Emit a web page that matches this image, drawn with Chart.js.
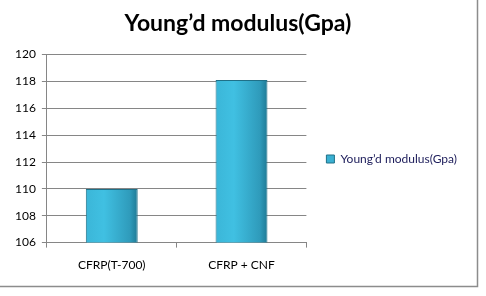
<!DOCTYPE html>
<html>
<head>
<meta charset="utf-8">
<script src="https://cdn.jsdelivr.net/npm/chart.js@4/dist/chart.umd.min.js"></script>
<style>
html,body{margin:0;padding:0;background:#fff;}
#wrap{width:486px;height:296px;position:relative;}
</style>
</head>
<body>
<div id="wrap"><canvas id="c" width="486" height="296"></canvas></div>
<script>
const categories = ["CFRP(T-700)", "CFRP + CNF"];
const seriesName = "Young\u2019d modulus(Gpa)";
const values = [110, 118.1];
const titleText = "Young\u2019d modulus(Gpa)";
const yMin = 106, yMax = 120, yStep = 2;

const BAR_PCT = 0.4;

function barGradient(ctx) {
  const chart = ctx.chart;
  const xs = chart.scales && chart.scales.x;
  if (!xs || ctx.dataIndex === undefined) return '#3AB4D6';
  const cx = xs.getPixelForValue(ctx.dataIndex);
  const w = xs.width / categories.length * BAR_PCT;
  const g = chart.ctx.createLinearGradient(cx - w / 2, 0, cx + w / 2, 0);
  g.addColorStop(0, '#3BB6D8');
  g.addColorStop(0.35, '#40C0E2');
  g.addColorStop(0.85, '#2F9BBB');
  g.addColorStop(1, '#1F7A95');
  return g;
}

const borderPlugin = {
  id: 'frame',
  beforeDraw(chart) {
    const c = chart.ctx;
    c.save();
    c.fillStyle = '#fff';
    c.fillRect(0, 0, chart.width, chart.height);
    c.restore();
  },
  afterDraw(chart) {
    const c = chart.ctx;
    c.save();
    c.strokeStyle = '#8c8c8c';
    c.lineWidth = 1.5;
    c.beginPath();
    c.moveTo(477.5, 0);
    c.lineTo(477.5, 286.5);
    c.lineTo(0, 286.5);
    c.stroke();
    c.restore();
  }
};

new Chart(document.getElementById('c'), {
  type: 'bar',
  data: {
    labels: categories,
    datasets: [{
      label: seriesName,
      data: values,
      backgroundColor: barGradient,
      borderColor: '#1F7088',
      borderWidth: 1,
      categoryPercentage: 1,
      barPercentage: BAR_PCT
    }]
  },
  options: {
    responsive: false,
    animation: false,
    devicePixelRatio: 1,
    layout: { padding: { left: 9, right: 19, top: 0, bottom: 14 } },
    plugins: {
      title: {
        display: true,
        text: titleText,
        color: '#000',
        font: { family: 'Lato', size: 23, weight: 'bold' },
        padding: { top: 10, bottom: 17 }
      },
      legend: {
        position: 'right',
        align: 'center',
        maxWidth: 220,
        title: {
          display: true,
          text: ' ',
          font: { family: 'Lato', size: 10 },
          padding: { top: 24, bottom: 0 }
        },
        labels: {
          color: '#1c1c5a',
          font: { family: 'Lato', size: 12 },
          boxWidth: 8,
          boxHeight: 8,
          padding: 20,
          generateLabels(chart) {
            return [{
              text: seriesName,
              fillStyle: '#3AB0D2',
              strokeStyle: '#1F7088',
              lineWidth: 1,
              fontColor: '#1c1c5a',
              datasetIndex: 0
            }];
          }
        }
      },
      tooltip: { enabled: false }
    },
    scales: {
      x: {
        grid: { offset: true, drawOnChartArea: false, color: '#868686', tickLength: 5 },
        border: { color: '#868686', width: 1 },
        ticks: { color: '#000', font: { family: 'Lato', size: 12 }, padding: 10 }
      },
      y: {
        min: yMin,
        max: yMax,
        ticks: { stepSize: yStep, color: '#000', font: { family: 'Lato', size: 12 }, padding: 6 },
        grid: { color: '#868686', tickLength: 5 },
        border: { color: '#868686', width: 1 }
      }
    }
  },
  plugins: [borderPlugin]
});
</script>
</body>
</html>
